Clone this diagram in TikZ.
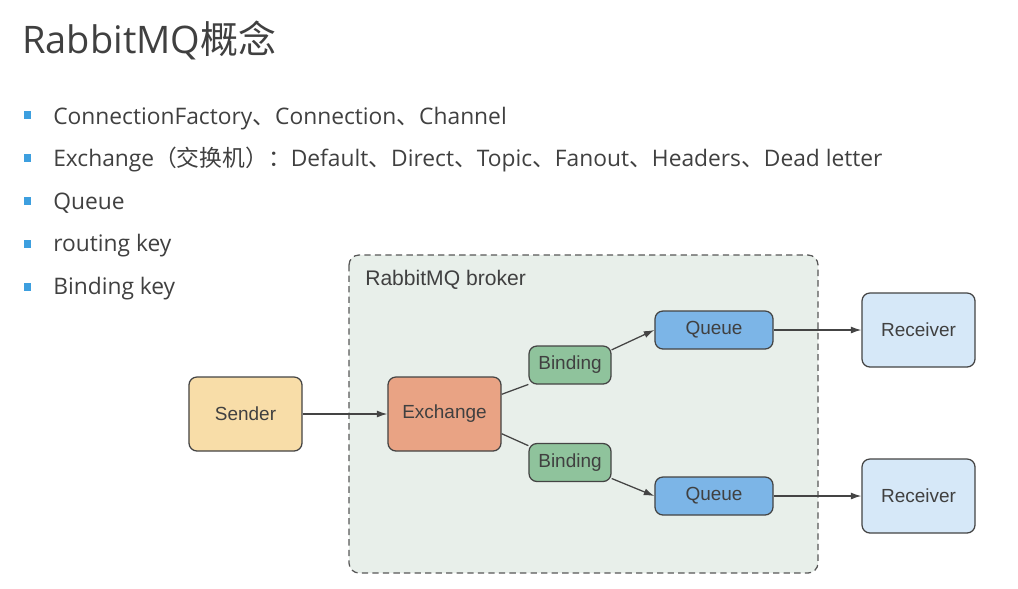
\documentclass[tikz,border=0pt]{standalone}
\usepackage{fontspec}
\setmainfont{Open Sans}
\newfontfamily\cjk{Noto Sans CJK SC}
\newfontfamily\arial{Liberation Sans}
\usepackage{tikz}
\usetikzlibrary{%
    arrows.meta,
    positioning,
    calc,
    shapes
}
\definecolor{txtgray}{HTML}{404040}
\definecolor{linegray}{HTML}{444444}
\definecolor{bulletblue}{HTML}{3D9FDF}
\definecolor{brokerfill}{HTML}{E8EFEA}
\definecolor{senderfill}{HTML}{F8DDA8}
\definecolor{exchfill}{HTML}{E9A384}
\definecolor{bindfill}{HTML}{8FC39C}
\definecolor{queuefill}{HTML}{7CB5E7}
\definecolor{recvfill}{HTML}{D6E8F8}

\begin{document}
\begin{tikzpicture}[x=0.025cm, y=-0.025cm,
    box/.style={draw=linegray, line width=0.9pt, rounded corners=0.2cm, font=\arial\fontsize{13.5}{16}\selectfont, text=txtgray, minimum width=2.825cm, minimum height=1.85cm, inner sep=0pt},
    small/.style={box, minimum height=0.95cm},
    bullet/.style={fill=bulletblue, minimum size=0.19cm, inner sep=0pt},
    item/.style={anchor=base west, inner sep=0pt, text=txtgray, font=\fontsize{16.2}{20}\selectfont},
    link/.style={draw=linegray, line width=0.9pt},
    >={Latex[length=7.5pt, width=5pt]}]
      \useasboundingbox (0,0) rectangle (1018,588);

      \node[anchor=base west, inner sep=0pt, text=txtgray, font=\fontsize{27}{30}\selectfont] (title) at (22,53) {RabbitMQ{\cjk 概念}};

      \node[bullet] (b_1) at (27.5,115) {};
      \node[bullet] (b_2) at (27.5,158) {};
      \node[bullet] (b_3) at (27.5,201) {};
      \node[bullet] (b_4) at (27.5,244) {};
      \node[bullet] (b_5) at (27.5,287) {};
      \node[item] (t_1) at (53,124) {ConnectionFactory{\cjk 、}Connection{\cjk 、}Channel};
      \node[item] (t_2) at (53,166) {Exchange{\cjk （交换机）：}Default{\cjk 、}Direct{\cjk 、}Topic{\cjk 、}Fanout{\cjk 、}Headers{\cjk 、}Dead letter};
      \node[item] (t_3) at (53,209) {Queue};
      \node[item] (t_4) at (53,251) {routing key};
      \node[item] (t_5) at (53,294) {Binding key};

      \draw[fill=brokerfill, draw=linegray!90, line width=0.9pt, dash pattern=on 4.5pt off 3pt, rounded corners=0.25cm] (349,255) rectangle (818,573);
      \node[anchor=base west, inner sep=0pt, text=txtgray, font=\arial\fontsize{15}{18}\selectfont] (brk) at (365,285) {RabbitMQ broker};

      \node[box, fill=senderfill] (snd) at (245.5,414) {Sender};
      \node[box, fill=exchfill] (exch) at (444.5,414) {Exchange};
      \node[small, fill=bindfill, minimum width=2.05cm] (bind_1) at (570,365) {Binding};
      \node[small, fill=bindfill, minimum width=2.05cm] (bind_2) at (570,462.5) {Binding};
      \node[small, fill=queuefill, minimum width=2.95cm] (queue_1) at (714,330) {Queue};
      \node[small, fill=queuefill, minimum width=2.95cm] (queue_2) at (714,496) {Queue};
      \node[box, fill=recvfill] (recv_1) at (918.5,330) {Receiver};
      \node[box, fill=recvfill] (recv_2) at (918.5,496) {Receiver};

      \draw[link, ->] (snd) -- (exch);
      \draw[link] (exch.19) -- (bind_1.205);
      \draw[link] (exch.-19) -- (bind_2.158);
      \draw[link, ->] (bind_1.20) -- (queue_1.west);
      \draw[link, ->] (bind_2.-21) -- (queue_2.west);
      \draw[link, ->] (queue_1) -- (recv_1);
      \draw[link, ->] (queue_2) -- (recv_2);
    \end{tikzpicture}
\end{document}
